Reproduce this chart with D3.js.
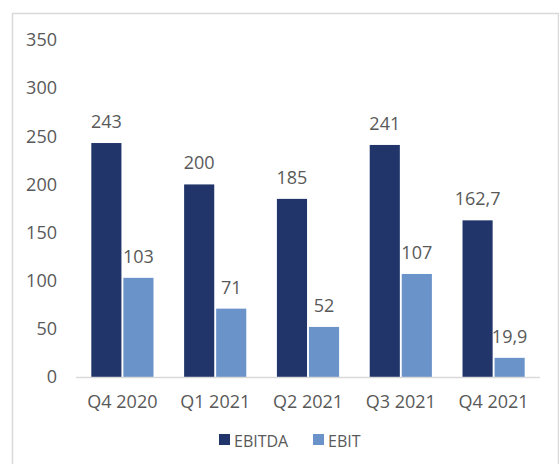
<!DOCTYPE html>
<html>
<head>
<meta charset="utf-8">
<script src="https://cdn.jsdelivr.net/npm/d3@7"></script>
<style>
  body { margin: 0; background: #fff; }
  svg text { font-family: "Open Sans", "Noto Sans", sans-serif; fill: #595959; }
</style>
</head>
<body>
<div id="chart"></div>
<script>
var quarters = ["Q4 2020", "Q1 2021", "Q2 2021", "Q3 2021", "Q4 2021"];
var seriesNames = ["EBITDA", "EBIT"];
var ebitda = [243, 200, 185, 241, 162.7];
var ebit = [103, 71, 52, 107, 19.9];
var yTicks = [0, 50, 100, 150, 200, 250, 300, 350];
var colors = ["#22356b", "#6a93ca"];

var width = 559, height = 464;
var svg = d3.select('#chart').append('svg')
  .attr('width', width)
  .attr('height', height);

// frame
svg.append('path')
  .attr('d', 'M12.5,470 V13.5 H558.5 V470')
  .attr('fill', 'none')
  .attr('stroke', '#d9d9d9')
  .attr('stroke-width', 1.5);

var x0 = d3.scaleBand().domain(quarters).range([76, 540]).paddingInner(0.33).paddingOuter(0.165);
var x1 = d3.scaleBand().domain(seriesNames).range([0, x0.bandwidth()]).paddingInner(0.06);
var y = d3.scaleLinear().domain([0, 350]).range([377, 40]);

// y axis labels
svg.append('g').selectAll('text')
  .data(yTicks)
  .enter().append('text')
  .attr('x', 57)
  .attr('y', function(d) { return y(d); })
  .attr('dy', '0.35em')
  .attr('text-anchor', 'end')
  .attr('font-size', 18)
  .text(function(d) { return d; });

var fmt = function(v) { return String(v).replace('.', ','); };

var groups = svg.append('g').selectAll('g')
  .data(quarters)
  .enter().append('g')
  .attr('transform', function(d) { return 'translate(' + x0(d) + ',0)'; });

groups.selectAll('rect')
  .data(function(d, i) { return [{k: 'EBITDA', v: ebitda[i]}, {k: 'EBIT', v: ebit[i]}]; })
  .enter().append('rect')
  .attr('x', function(d) { return x1(d.k); })
  .attr('y', function(d) { return y(d.v); })
  .attr('width', x1.bandwidth())
  .attr('height', function(d) { return y(0) - y(d.v); })
  .attr('fill', function(d, i) { return colors[i]; });

groups.selectAll('text.val')
  .data(function(d, i) { return [{k: 'EBITDA', v: ebitda[i]}, {k: 'EBIT', v: ebit[i]}]; })
  .enter().append('text')
  .attr('class', 'val')
  .attr('x', function(d) { return x1(d.k) + x1.bandwidth() / 2; })
  .attr('y', function(d) { return y(d.v) - 15; })
  .attr('text-anchor', 'middle')
  .attr('font-size', 18)
  .text(function(d) { return fmt(d.v); });

// baseline
svg.append('line')
  .attr('x1', 76).attr('x2', 540)
  .attr('y1', y(0) + 0.5).attr('y2', y(0) + 0.5)
  .attr('stroke', '#d9d9d9')
  .attr('stroke-width', 1.5);

// x labels
svg.append('g').selectAll('text')
  .data(quarters)
  .enter().append('text')
  .attr('x', function(d) { return x0(d) + x0.bandwidth() / 2; })
  .attr('y', 408)
  .attr('text-anchor', 'middle')
  .attr('font-size', 18)
  .text(function(d) { return d; });

// legend
var legendX = [219, 313];
var legend = svg.append('g').selectAll('g')
  .data(seriesNames)
  .enter().append('g')
  .attr('transform', function(d, i) { return 'translate(' + legendX[i] + ',434)'; });
legend.append('rect')
  .attr('width', 11).attr('height', 11)
  .attr('fill', function(d, i) { return colors[i]; });
legend.append('text')
  .attr('x', 15).attr('y', 12.5)
  .attr('font-size', 16)
  .text(function(d) { return d; });
</script>
</body>
</html>
